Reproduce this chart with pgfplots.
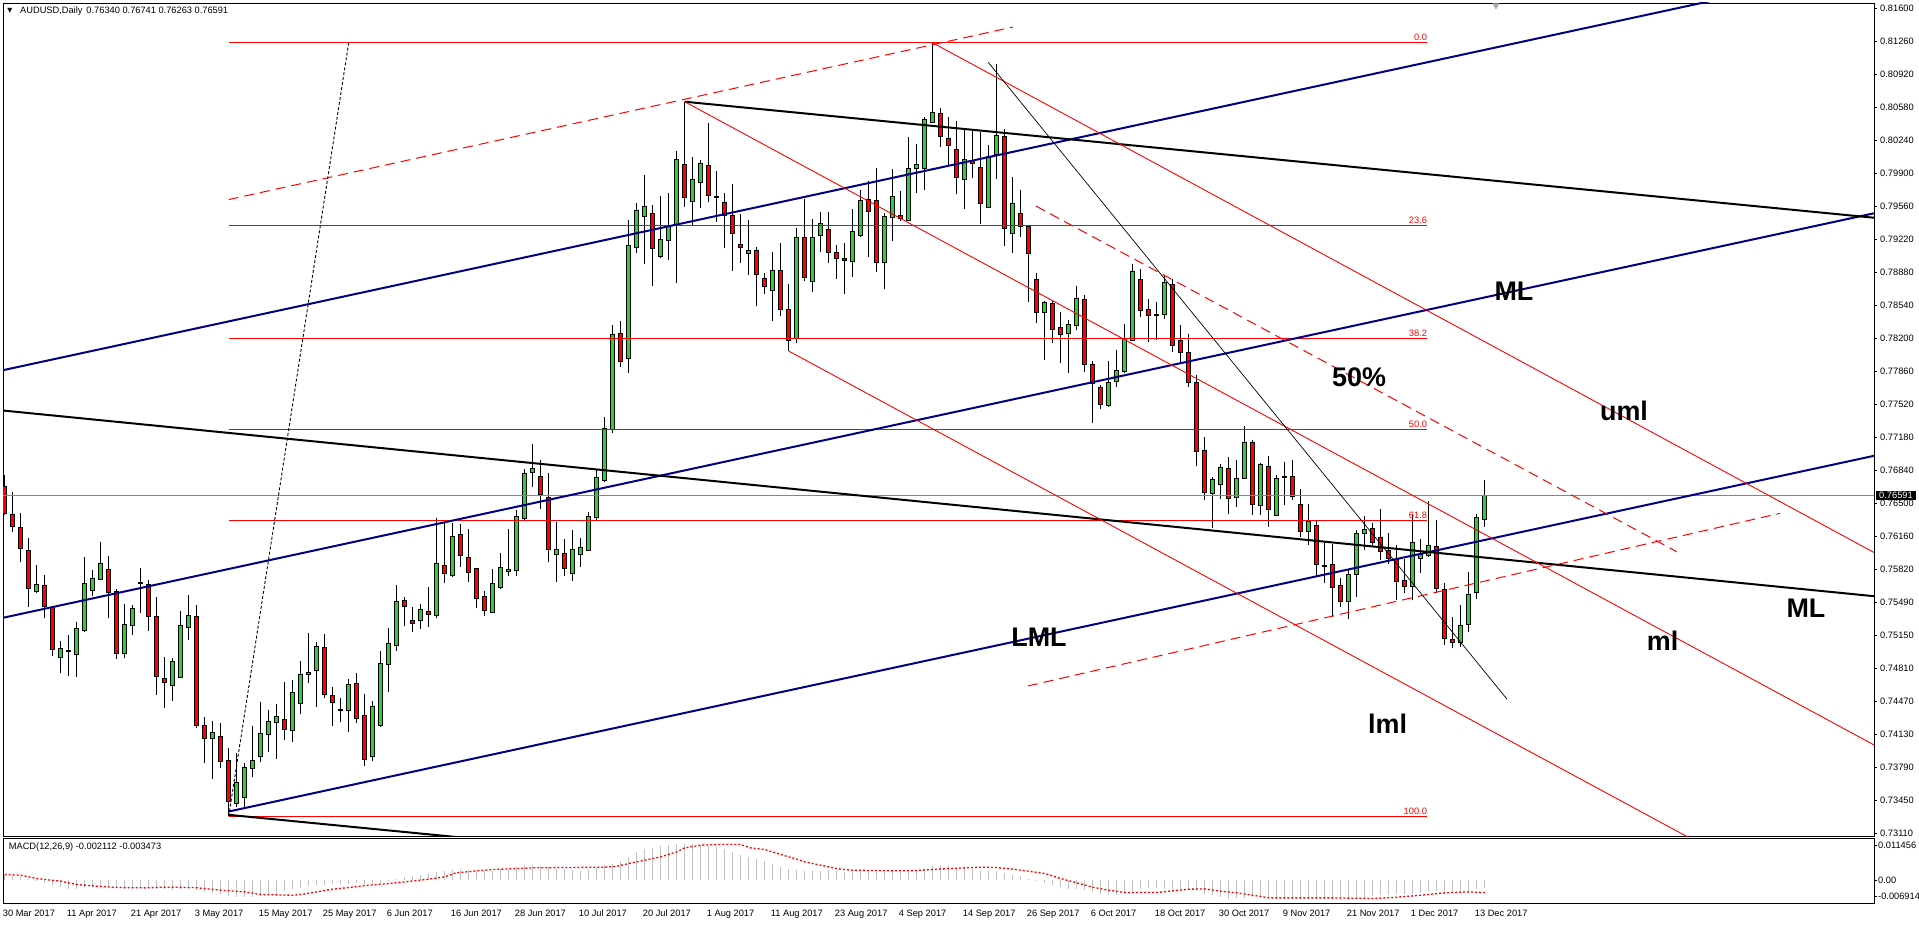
\documentclass[border=0pt]{standalone}
\usepackage{fontspec}
\setmainfont{Liberation Sans}
\newfontfamily\dejavu{DejaVu Sans}
\usepackage{pgfplots}
\pgfplotsset{compat=1.18}
\usepackage{pgfplotstable}

\definecolor{bull}{RGB}{50,205,50}
\definecolor{bear}{RGB}{255,0,0}
\definecolor{pfblue}{RGB}{0,0,128}
\definecolor{bidline}{RGB}{119,136,153}
\definecolor{histgray}{RGB}{192,192,192}

\newcommand\tickfont{\fontsize{9.3}{11}\selectfont}
\newcommand\lblfont{\fontsize{27}{30}\selectfont\bfseries}

% AUDUSD daily, bar 0 = 30 Mar 2017
\pgfplotstableread{
i O H L C
0 0.76677 0.76797 0.76385 0.76402
1 0.76392 0.76618 0.76214 0.76265
2 0.76258 0.76409 0.75905 0.76042
3 0.76025 0.76145 0.75442 0.75630
4 0.75596 0.75871 0.75579 0.75672
5 0.75661 0.75768 0.75322 0.75442
6 0.75432 0.75442 0.74934 0.75003
7 0.74920 0.75089 0.74756 0.75013
8 0.74982 0.75150 0.74728 0.74989
9 0.74951 0.75281 0.74721 0.75219
10 0.75202 0.75949 0.75185 0.75682
11 0.75610 0.75819 0.75552 0.75733
12 0.75723 0.76107 0.75723 0.75888
13 0.75829 0.75963 0.75329 0.75589
14 0.75600 0.75620 0.74907 0.74962
15 0.74962 0.75469 0.74914 0.75260
16 0.75250 0.75459 0.75150 0.75425
17 0.75678 0.75840 0.75380 0.75689
18 0.75672 0.75716 0.75191 0.75346
19 0.75342 0.75545 0.74533 0.74721
20 0.74704 0.74927 0.74396 0.74660
21 0.74629 0.74910 0.74475 0.74879
22 0.74715 0.75397 0.74715 0.75253
23 0.75226 0.75562 0.75099 0.75356
24 0.75346 0.75459 0.74190 0.74217
25 0.74221 0.74303 0.73830 0.74087
26 0.74087 0.74265 0.73668 0.74149
27 0.74108 0.74241 0.73778 0.73847
28 0.73864 0.73984 0.73284 0.73435
29 0.73418 0.73933 0.73384 0.73634
30 0.73480 0.73830 0.73384 0.73789
31 0.73778 0.74214 0.73686 0.73864
32 0.73898 0.74457 0.73847 0.74138
33 0.74128 0.74378 0.73950 0.74265
34 0.74252 0.74440 0.73874 0.74313
35 0.74286 0.74670 0.74070 0.74180
36 0.74173 0.74687 0.74053 0.74560
37 0.74447 0.74883 0.74337 0.74745
38 0.74745 0.75174 0.74653 0.74769
39 0.74787 0.75082 0.74413 0.75037
40 0.75024 0.75161 0.74499 0.74534
41 0.74530 0.74613 0.74218 0.74458
42 0.74386 0.74499 0.74259 0.74376
43 0.74379 0.74695 0.74156 0.74643
44 0.74653 0.74756 0.74242 0.74293
45 0.74324 0.74544 0.73800 0.73870
46 0.73900 0.74471 0.73850 0.74420
47 0.74215 0.74986 0.74208 0.74859
48 0.74849 0.75226 0.74568 0.75065
49 0.75041 0.75665 0.74990 0.75497
50 0.75511 0.75538 0.75247 0.75442
51 0.75305 0.75435 0.75185 0.75271
52 0.75298 0.75466 0.75209 0.75415
53 0.75398 0.75645 0.75237 0.75363
54 0.75350 0.76358 0.75322 0.75888
55 0.75871 0.76307 0.75683 0.75785
56 0.75765 0.76300 0.75751 0.76169
57 0.76187 0.76293 0.75854 0.75967
58 0.75950 0.76238 0.75700 0.75796
59 0.75837 0.75844 0.75425 0.75528
60 0.75545 0.75607 0.75350 0.75408
61 0.75384 0.75826 0.75374 0.75683
62 0.75641 0.75998 0.75624 0.75847
63 0.75806 0.76238 0.75761 0.75827
64 0.75813 0.76437 0.75761 0.76375
65 0.76351 0.76856 0.76334 0.76814
66 0.76821 0.77116 0.76670 0.76869
67 0.76787 0.76952 0.76444 0.76595
68 0.76567 0.76814 0.75905 0.76032
69 0.75981 0.76317 0.75700 0.76032
70 0.75991 0.76135 0.75761 0.75837
71 0.75785 0.76231 0.75710 0.76032
72 0.75981 0.76146 0.75854 0.76053
73 0.76025 0.76420 0.76019 0.76368
74 0.76358 0.76849 0.76334 0.76773
75 0.76739 0.77391 0.76729 0.77277
76 0.77267 0.78341 0.77233 0.78245
77 0.78255 0.78386 0.77912 0.77964
78 0.77998 0.79421 0.77851 0.79164
79 0.79140 0.79593 0.79085 0.79524
80 0.79463 0.79885 0.78965 0.79566
81 0.79490 0.79576 0.78746 0.79130
82 0.79051 0.79668 0.79027 0.79223
83 0.79212 0.79696 0.79010 0.79360
84 0.79380 0.80131 0.78770 0.80046
85 0.79994 0.80639 0.79552 0.79655
86 0.79617 0.80066 0.79370 0.79840
87 0.79809 0.80039 0.79548 0.80005
88 0.79984 0.80416 0.79603 0.79675
89 0.79665 0.79926 0.79404 0.79655
90 0.79600 0.79696 0.79130 0.79473
91 0.79470 0.79788 0.78900 0.79284
92 0.79171 0.79483 0.78982 0.79140
93 0.79078 0.79421 0.78855 0.79109
94 0.79106 0.79147 0.78540 0.78862
95 0.78821 0.78880 0.78657 0.78742
96 0.78701 0.79089 0.78386 0.78900
97 0.78900 0.79181 0.78437 0.78502
98 0.78502 0.78763 0.78073 0.78187
99 0.78204 0.79336 0.78152 0.79243
100 0.79243 0.79638 0.78797 0.78831
101 0.78790 0.79428 0.78684 0.79243
102 0.79264 0.79500 0.79096 0.79387
103 0.79325 0.79500 0.78976 0.79089
104 0.79085 0.79164 0.78814 0.79027
105 0.79027 0.79181 0.78657 0.79003
106 0.78993 0.79531 0.78838 0.79305
107 0.79260 0.79730 0.79250 0.79627
108 0.79638 0.79823 0.79044 0.79507
109 0.79627 0.79953 0.78890 0.78982
110 0.78982 0.79497 0.78708 0.79456
111 0.79449 0.79943 0.79209 0.79668
112 0.79473 0.79720 0.79415 0.79439
113 0.79421 0.80272 0.79421 0.79953
114 0.79953 0.80204 0.79700 0.79994
115 0.79957 0.80478 0.79730 0.80457
116 0.80427 0.81245 0.80423 0.80533
117 0.80519 0.80571 0.80176 0.80279
118 0.80262 0.80478 0.79970 0.80186
119 0.80152 0.80444 0.79689 0.79857
120 0.79840 0.80348 0.79535 0.80046
121 0.80032 0.80348 0.79850 0.80005
122 0.79967 0.80331 0.79380 0.79593
123 0.79552 0.80193 0.79552 0.80073
124 0.80097 0.81023 0.79843 0.80293
125 0.80279 0.80358 0.79154 0.79336
126 0.79284 0.79867 0.79079 0.79593
127 0.79490 0.79730 0.79250 0.79353
128 0.79353 0.79370 0.78581 0.79073
129 0.78811 0.78873 0.78358 0.78471
130 0.78471 0.78591 0.77981 0.78571
131 0.78564 0.78591 0.78159 0.78297
132 0.78317 0.78471 0.77947 0.78245
133 0.78255 0.78392 0.77844 0.78348
134 0.78337 0.78742 0.78290 0.78615
135 0.78605 0.78650 0.77861 0.77940
136 0.77936 0.77971 0.77329 0.77741
137 0.77700 0.77724 0.77473 0.77528
138 0.77508 0.77971 0.77494 0.77751
139 0.77765 0.78084 0.77700 0.77871
140 0.77861 0.78351 0.77851 0.78204
141 0.78187 0.78965 0.78180 0.78897
142 0.78811 0.78914 0.78420 0.78495
143 0.78502 0.78605 0.78170 0.78444
144 0.78451 0.78574 0.78187 0.78441
145 0.78454 0.78845 0.78399 0.78780
146 0.78760 0.78811 0.78067 0.78135
147 0.78187 0.78341 0.77947 0.78056
148 0.78060 0.78248 0.77707 0.77751
149 0.77747 0.77830 0.76893 0.77037
150 0.77054 0.77185 0.76540 0.76619
151 0.76609 0.76773 0.76248 0.76756
152 0.76701 0.76910 0.76547 0.76876
153 0.76866 0.76986 0.76392 0.76557
154 0.76567 0.76952 0.76471 0.76763
155 0.76763 0.77301 0.76759 0.77133
156 0.77133 0.77157 0.76382 0.76495
157 0.76485 0.76924 0.76382 0.76907
158 0.76883 0.76996 0.76266 0.76447
159 0.76386 0.76797 0.76379 0.76763
160 0.76783 0.76934 0.76488 0.76773
161 0.76780 0.76952 0.76540 0.76581
162 0.76495 0.76650 0.76163 0.76221
163 0.76221 0.76495 0.76077 0.76320
164 0.76279 0.76324 0.75751 0.75881
165 0.75871 0.76094 0.75682 0.75861
166 0.75874 0.76087 0.75339 0.75641
167 0.75662 0.75734 0.75435 0.75494
168 0.75494 0.75820 0.75312 0.75775
169 0.75775 0.76231 0.75545 0.76197
170 0.76197 0.76375 0.76025 0.76238
171 0.76248 0.76307 0.76077 0.76101
172 0.76152 0.76444 0.75922 0.76008
173 0.76025 0.76197 0.75878 0.75940
174 0.75929 0.76077 0.75511 0.75706
175 0.75717 0.75929 0.75580 0.75648
176 0.75655 0.76396 0.75511 0.76101
177 0.75940 0.76135 0.75792 0.75981
178 0.75974 0.76533 0.75950 0.76077
179 0.76060 0.76334 0.75580 0.75631
180 0.75621 0.75682 0.75048 0.75117
181 0.75106 0.75333 0.75013 0.75075
182 0.75075 0.75459 0.75031 0.75247
183 0.75264 0.75802 0.75185 0.75569
184 0.75590 0.76396 0.75521 0.76361
185 0.76340 0.76741 0.76263 0.76591
}\ohlc

% MACD(12,26,9) main line (histogram)
\pgfplotstableread{
i v
0 0.00133
1 0.00115
2 0.00087
3 0.00041
4 -0.00032
5 -0.00069
6 -0.00143
7 -0.00189
8 -0.00235
9 -0.00253
10 -0.00216
11 -0.00189
12 -0.00189
13 -0.00189
14 -0.00216
15 -0.00235
16 -0.00235
17 -0.00216
18 -0.00216
19 -0.00235
20 -0.00253
21 -0.00262
22 -0.00253
23 -0.00235
24 -0.00281
25 -0.00327
26 -0.00354
27 -0.00391
28 -0.00437
29 -0.00474
30 -0.00474
31 -0.00465
32 -0.00437
33 -0.00400
34 -0.00354
35 -0.00308
36 -0.00253
37 -0.00216
38 -0.00161
39 -0.00124
40 -0.00124
41 -0.00106
42 -0.00097
43 -0.00097
44 -0.00087
45 -0.00124
46 -0.00106
47 -0.00069
48 -0.00014
49 0.00041
50 0.00087
51 0.00115
52 0.00152
53 0.00170
54 0.00225
55 0.00244
56 0.00271
57 0.00299
58 0.00290
59 0.00253
60 0.00244
61 0.00262
62 0.00299
63 0.00317
64 0.00363
65 0.00409
66 0.00409
67 0.00391
68 0.00354
69 0.00317
70 0.00299
71 0.00281
72 0.00253
73 0.00271
74 0.00336
75 0.00409
76 0.00455
77 0.00520
78 0.00639
79 0.00777
80 0.00869
81 0.00897
82 0.00934
83 0.00961
84 0.00989
85 0.01007
86 0.00998
87 0.00980
88 0.00943
89 0.00906
90 0.00851
91 0.00777
92 0.00704
93 0.00639
94 0.00593
95 0.00520
96 0.00455
97 0.00363
98 0.00299
99 0.00271
100 0.00262
101 0.00262
102 0.00262
103 0.00271
104 0.00244
105 0.00225
106 0.00225
107 0.00244
108 0.00253
109 0.00225
110 0.00225
111 0.00253
112 0.00271
113 0.00271
114 0.00290
115 0.00345
116 0.00382
117 0.00409
118 0.00382
119 0.00345
120 0.00336
121 0.00317
122 0.00271
123 0.00271
124 0.00253
125 0.00207
126 0.00152
127 0.00115
128 0.00041
129 0.00014
130 -0.00078
131 -0.00143
132 -0.00189
133 -0.00235
134 -0.00235
135 -0.00281
136 -0.00327
137 -0.00373
138 -0.00419
139 -0.00400
140 -0.00327
141 -0.00308
142 -0.00253
143 -0.00216
144 -0.00216
145 -0.00235
146 -0.00235
147 -0.00281
148 -0.00281
149 -0.00308
150 -0.00373
151 -0.00419
152 -0.00465
153 -0.00511
154 -0.00492
155 -0.00483
156 -0.00465
157 -0.00465
158 -0.00492
159 -0.00511
160 -0.00529
161 -0.00529
162 -0.00529
163 -0.00529
164 -0.00529
165 -0.00529
166 -0.00538
167 -0.00557
168 -0.00538
169 -0.00511
170 -0.00483
171 -0.00437
172 -0.00419
173 -0.00400
174 -0.00391
175 -0.00373
176 -0.00373
177 -0.00345
178 -0.00308
179 -0.00299
180 -0.00327
181 -0.00345
182 -0.00327
183 -0.00290
184 -0.00253
185 -0.00211
}\macd

\pgfplotsset{
  pricepanel/.style={width=1871bp, height=833bp, scale only axis,
    at={(3bp,-3bp)}, anchor=north west,
    xmin=-0.2125, xmax=233.66, ymin=0.73082, ymax=0.81655},
}

\begin{document}
\begin{tikzpicture}
\useasboundingbox (0,0) rectangle (1919bp,-925bp);

% price panel: frame, price scale and candle wicks
\begin{axis}[pricepanel,
  axis line style={black, line width=1bp},
  xtick=\empty,
  ytick={0.73110,0.73449,0.73789,0.74128,0.74468,0.74808,0.75147,0.75487,0.75826,0.76166,0.76506,0.76845,0.77185,0.77525,0.77864,0.78204,0.78543,0.78883,0.79223,0.79562,0.79902,0.80242,0.80581,0.80921,0.81260,0.81600},
  yticklabels={0.73110,0.73450,0.73790,0.74130,0.74470,0.74810,0.75150,0.75490,0.75820,0.76160,0.76500,0.76840,0.77180,0.77520,0.77860,0.78200,0.78540,0.78880,0.79220,0.79560,0.79900,0.80240,0.80580,0.80920,0.81260,0.81600},
  scaled y ticks=false,
  ytick pos=right, yticklabel pos=right,
  tick align=outside, major tick length=3bp,
  tick style={black, line width=0.8bp},
  yticklabel style={font=\tickfont, anchor=west, inner sep=0pt, xshift=3bp},
]
\addplot[draw=none, mark=none, error bars/.cd, y dir=plus, y explicit,
  error mark=none, error bar style={draw=black, line width=1bp, solid}]
  table[x=i, y=L, y error expr=\thisrow{H}-\thisrow{L}] {\ohlc};
\end{axis}

% candle bodies
\begin{axis}[pricepanel, hide axis, ybar stacked, bar width=3.6bp]
\addplot[draw=none, fill=none] table[x=i, y expr={min(\thisrow{O},\thisrow{C})}] {\ohlc};
\addplot[fill=bull, draw=black, line width=0.9bp]
  table[x=i, y expr={\thisrow{C}>=\thisrow{O} ? \thisrow{C}-\thisrow{O} : 0}] {\ohlc};
\addplot[fill=bear, draw=black, line width=0.9bp]
  table[x=i, y expr={\thisrow{C}<\thisrow{O} ? \thisrow{O}-\thisrow{C} : 0}] {\ohlc};
\end{axis}

% drawn objects: fibonacci, pitchforks, trend lines, labels
\begin{axis}[pricepanel, hide axis]
\addplot[bidline, line width=1bp] coordinates {(-1,0.76591) (240,0.76591)};
% fibonacci retracement
\addplot[red, line width=1bp] coordinates {(28,0.81245) (177.8,0.81245)};
\addplot[red, line width=1bp] coordinates {(28,0.79366) (177.8,0.79366)};
\addplot[red, line width=1bp] coordinates {(28,0.78204) (177.8,0.78204)};
\addplot[red, line width=1bp] coordinates {(28,0.77264) (177.8,0.77264)};
\addplot[red, line width=1bp] coordinates {(28,0.76325) (177.8,0.76325)};
\addplot[red, line width=1bp] coordinates {(28,0.73284) (177.8,0.73284)};
\addplot[black, line width=0.9bp, dash pattern=on 3bp off 2bp] coordinates {(28,0.73284) (43,0.81245)};
% blue pitchfork
\addplot[pfblue, line width=2bp] coordinates {(-0.2125,0.77876) (233.66,0.82039)};
\addplot[pfblue, line width=2bp] coordinates {(-0.2125,0.75328) (233.66,0.79491)};
\addplot[pfblue, line width=2bp] coordinates {(28,0.73334) (233.66,0.76995)};
% black pitchfork
\addplot[black, line width=2bp] coordinates {(85,0.80639) (233.66,0.79445)};
\addplot[black, line width=2bp] coordinates {(-0.2125,0.77461) (233.66,0.75550)};
\addplot[black, line width=2bp] coordinates {(28,0.73300) (60,0.73043)};
% red pitchfork
\addplot[red, line width=0.9bp] coordinates {(116,0.81245) (233.66,0.76000)};
\addplot[red, line width=0.9bp] coordinates {(85,0.80639) (233.66,0.74019)};
\addplot[red, line width=0.9bp] coordinates {(98,0.78073) (233.66,0.72036)};
\addplot[red, line width=1bp, dash pattern=on 10bp off 6bp] coordinates {(28,0.79632) (126,0.81407)};
\addplot[red, line width=1bp, dash pattern=on 10bp off 6bp] coordinates {(128.9,0.79565) (209,0.76008)};
\addplot[red, line width=1bp, dash pattern=on 10bp off 6bp] coordinates {(127.9,0.74626) (221.9,0.76403)};
% thin trend line
\addplot[black, line width=0.7bp] coordinates {(122.95,0.81044) (187.8,0.74489)};
% chart shift marker
\addplot[only marks, mark=triangle*, mark size=3.5bp, mark options={rotate=180, fill=gray!70, draw=gray!70}] coordinates {(186.4,0.8163)};
% fibonacci level texts
\begin{scope}[every node/.style={anchor=south east, inner sep=0pt, yshift=2bp, text=red, font=\tickfont}]
\node at (axis cs:177.8,0.81245) {0.0};
\node at (axis cs:177.8,0.79366) {23.6};
\node at (axis cs:177.8,0.78204) {38.2};
\node at (axis cs:177.8,0.77264) {50.0};
\node at (axis cs:177.8,0.76325) {61.8};
\node at (axis cs:177.8,0.73284) {100.0};
\end{scope}
% pitchfork labels
\begin{scope}[every node/.style={anchor=base west, inner sep=0pt, font=\lblfont}]
\node at (axis cs:186.2,0.78598) {ML};
\node at (axis cs:199.4,0.77363) {uml};
\node at (axis cs:165.9,0.77713) {50\%};
\node at (axis cs:205.25,0.74989) {ml};
\node at (axis cs:222.7,0.75333) {ML};
\node at (axis cs:125.8,0.75037) {LML};
\node at (axis cs:170.4,0.74132) {lml};
\end{scope}
\end{axis}

% MACD panel
\begin{axis}[width=1871bp, height=65bp, scale only axis,
  at={(3bp,-838.5bp)}, anchor=north west,
  xmin=-0.2125, xmax=233.66, ymin=-0.00648, ymax=0.01146,
  axis line style={black, line width=1bp},
  ytick={-0.00442,0,0.00947}, yticklabels={-0.006914,0.00,0.011456},
  scaled y ticks=false,
  ytick pos=right, yticklabel pos=right,
  xtick={0,8,...,184},
  xticklabels={30 Mar 2017,11 Apr 2017,21 Apr 2017,3 May 2017,15 May 2017,25 May 2017,6 Jun 2017,16 Jun 2017,28 Jun 2017,10 Jul 2017,20 Jul 2017,1 Aug 2017,11 Aug 2017,23 Aug 2017,4 Sep 2017,14 Sep 2017,26 Sep 2017,6 Oct 2017,18 Oct 2017,30 Oct 2017,9 Nov 2017,21 Nov 2017,1 Dec 2017,13 Dec 2017},
  xtick pos=bottom,
  tick align=outside, major tick length=3bp,
  tick style={black, line width=0.8bp},
  xtick style={draw=none},
  yticklabel style={font=\tickfont, anchor=west, inner sep=0pt, xshift=1bp},
  xticklabel style={font=\tickfont, anchor=north west, inner sep=0pt, xshift=-2bp, yshift=-3bp},
]
\addplot[ycomb, histgray, line width=1bp] table[x=i, y=v] {\macd};
\addplot[red, line width=1.3bp, dash pattern=on 2bp off 2bp] coordinates {
(0,0.00152) (2,0.00133) (4,0.00041) (7,-0.00032) (9,-0.00124) (11.5,-0.00170)
(14,-0.00207) (17.6,-0.00216) (20,-0.00198) (23.7,-0.00207) (25,-0.00235)
(27,-0.00281) (30,-0.00327) (32,-0.00400) (36,-0.00419) (37,-0.00400)
(39,-0.00327) (41,-0.00253) (43,-0.00207) (45.5,-0.00143) (48,-0.00097)
(50,-0.00051) (53,0.00023) (55,0.00087) (56.4,0.00198) (59,0.00253)
(61,0.00290) (64,0.00317) (66,0.00336) (70,0.00345) (75,0.00354)
(76.4,0.00373) (78,0.00455) (80,0.00547) (82,0.00639) (84,0.00777)
(85,0.00888) (87,0.00961) (89,0.00980) (92,0.00980) (93.2,0.00888)
(95,0.00842) (96,0.00776) (97,0.00704) (98,0.00639) (99,0.00575)
(100,0.00501) (101,0.00455) (102,0.00409) (103,0.00363) (104,0.00317)
(105,0.00290) (106,0.00271) (109,0.00262) (111,0.00253) (114,0.00262)
(116,0.00290) (118,0.00317) (120,0.00336) (122,0.00354) (124,0.00345)
(126,0.00299) (128,0.00244) (130,0.00179) (132,0.00041) (134,-0.00078)
(136,-0.00198) (138,-0.00281) (140,-0.00345) (144,-0.00345) (146,-0.00299)
(148,-0.00253) (150,-0.00244) (152,-0.00308) (154,-0.00354) (156,-0.00419)
(158,-0.00492) (166,-0.00492) (171,-0.00511) (174,-0.00474) (177,-0.00419)
(180,-0.00354) (183,-0.00327) (185,-0.00347)};
\end{axis}

% header texts and current price box
\node[anchor=center, inner sep=0pt, font=\dejavu\fontsize{6.5}{7}\selectfont] at (9.8bp,-10.7bp) {▼};
\node[anchor=west, inner sep=0pt, font=\tickfont] at (20bp,-10.7bp) {AUDUSD,Daily\hspace{4bp}0.76340 0.76741 0.76263 0.76591};
\node[anchor=west, inner sep=0pt, font=\tickfont] at (8.7bp,-847.3bp) {MACD(12,26,9) -0.002112 -0.003473};
\node[anchor=west, fill=black, text=white, inner xsep=3bp, inner ysep=1.5bp, font=\tickfont] at (1876bp,-495.3bp) {0.76591};
\end{tikzpicture}
\end{document}
